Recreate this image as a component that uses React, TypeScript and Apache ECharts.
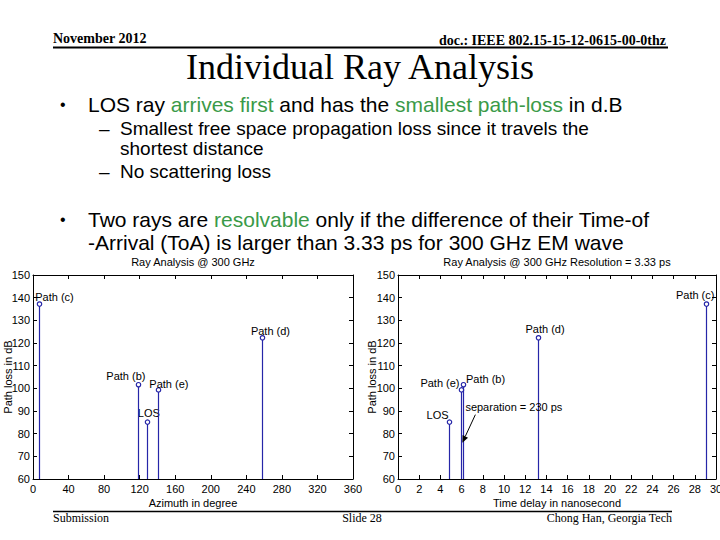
import React, { useEffect, useRef } from "react";
import * as echarts from "echarts";

// ---------- data ----------
const rayNames = ["LOS", "Path (b)", "Path (c)", "Path (d)", "Path (e)"];
const pathLossDb = [85.1, 101.6, 137.2, 122.3, 99.3];
const azimuthDeg = [128, 118.5, 7, 257.5, 141];
const delayNs = [4.77, 6.13, 29.05, 13.25, 5.9];

const azimuthAxis = { min: 0, max: 360, interval: 40 };
const delayAxis = { min: 0, max: 30, interval: 2 };
const lossAxis = { min: 60, max: 150, interval: 10 };

const lossAxisName = "Path loss in dB";
const separationNote = "separation = 230 ps";
// [fromX, fromY, toX, toY] in the right chart's data space
const separationArrow = [[7.3, 88.4, 6.07, 76]];

// ---------- styles ----------
const STEM = "#2626a8";
const GREEN = "#3a9a48";
const SANS = "'Liberation Sans', Arial, sans-serif";
const SERIF = "'Liberation Serif', 'Times New Roman', serif";

const leftLabelLayout: Record<string, [number, number, string]> = {
  "LOS": [-9, -9, "left"],
  "Path (b)": [-32, -9, "left"],
  "Path (c)": [-4, -7, "left"],
  "Path (d)": [-11, -7, "left"],
  "Path (e)": [-9, -6, "left"],
};
const rightLabelLayout: Record<string, [number, number, string]> = {
  "LOS": [0, -7, "right"],
  "Path (e)": [-1, -7, "right"],
  "Path (b)": [3, -6, "left"],
  "Path (d)": [-13, -9, "left"],
  "Path (c)": [-30, -9, "left"],
};

function stemRenderer(layout: Record<string, [number, number, string]>) {
  return (params: any, api: any) => {
    const x = api.value(0);
    const y = api.value(1);
    const top = api.coord([x, y]);
    const base = api.coord([x, lossAxis.min]);
    const name = rayNames[params.dataIndex];
    const [dx, dy, align] = layout[name];
    const px = Math.round(top[0]) + 0.5;
    return {
      type: "group",
      children: [
        {
          type: "line",
          shape: { x1: px, y1: base[1], x2: px, y2: top[1] + 2 },
          style: { stroke: STEM, lineWidth: 1.2 },
        },
        {
          type: "circle",
          shape: { cx: px, cy: top[1], r: 2.2 },
          style: { fill: "none", stroke: STEM, lineWidth: 1.2 },
        },
        {
          type: "text",
          x: top[0] + dx,
          y: top[1] + dy,
          style: {
            text: name,
            fill: "#000",
            fontSize: 11,
            fontFamily: SANS,
            align,
            verticalAlign: "middle",
          },
        },
      ],
    };
  };
}

function arrowRenderer(params: any, api: any) {
  const from = api.coord([api.value(0), api.value(1)]);
  const to = api.coord([api.value(2), api.value(3)]);
  const ang = Math.atan2(to[1] - from[1], to[0] - from[0]);
  const L = 7;
  const W = 3;
  const bx = to[0] - L * Math.cos(ang);
  const by = to[1] - L * Math.sin(ang);
  const nx = -Math.sin(ang) * W;
  const ny = Math.cos(ang) * W;
  return {
    type: "group",
    children: [
      {
        type: "line",
        shape: { x1: from[0], y1: from[1], x2: bx, y2: by },
        style: { stroke: "#000", lineWidth: 1 },
      },
      {
        type: "polygon",
        shape: { points: [[to[0], to[1]], [bx + nx, by + ny], [bx - nx, by - ny]] },
        style: { fill: "#000" },
      },
      {
        type: "text",
        x: from[0] - 10,
        y: from[1] - 8,
        style: {
          text: separationNote,
          fill: "#000",
          fontSize: 11,
          fontFamily: SANS,
          align: "left",
          verticalAlign: "middle",
        },
      },
    ],
  };
}

function axisPair(gridIndex: number, range: any, name: string, isX: boolean) {
  const common = {
    gridIndex,
    type: "value",
    min: range.min,
    max: range.max,
    interval: range.interval,
    splitLine: { show: false },
    axisLine: { show: true, onZero: false, lineStyle: { color: "#000", width: 1 } },
    axisTick: { show: true, inside: true, length: 4, lineStyle: { color: "#000" } },
  };
  return [
    {
      ...common,
      position: isX ? "bottom" : "left",
      axisLabel: {
        show: true,
        color: "#000",
        fontSize: 11,
        fontFamily: SANS,
        margin: isX ? 4 : 3,
      },
      name: isX ? name : "",
      nameLocation: "middle",
      nameGap: 18,
      nameTextStyle: { color: "#000", fontSize: 11, fontFamily: SANS },
    },
    {
      ...common,
      position: isX ? "top" : "right",
      axisLabel: { show: false },
    },
  ];
}

function txt(x: number, y: number, text: string, font: string, align = "left", extra: any = {}) {
  return {
    type: "text",
    x,
    y,
    silent: true,
    style: { text, font, fill: "#000", align, verticalAlign: "middle", ...extra },
  };
}

function vtxt(x: number, y: number, text: string) {
  return {
    type: "text",
    x,
    y,
    rotation: Math.PI / 2,
    silent: true,
    style: { text, fontSize: 11, fontFamily: SANS, fill: "#000", align: "center", verticalAlign: "middle" },
  };
}

function richLine(x: number, y: number, parts: [string, boolean][], size: number) {
  const rich: any = {
    k: { fill: "#000", fontSize: size, fontFamily: SANS },
    g: { fill: GREEN, fontSize: size, fontFamily: SANS },
  };
  const text = parts.map(([s, g]) => `{${g ? "g" : "k"}|${s}}`).join("");
  return {
    type: "text",
    x,
    y,
    silent: true,
    style: { text, rich, fontSize: size, fontFamily: SANS, fill: "#000", align: "left", verticalAlign: "middle" },
  };
}

export default function App() {
  const ref = useRef<HTMLDivElement>(null);
  useEffect(() => {
    if (!ref.current) return;
    const chart = echarts.init(ref.current, undefined, { renderer: "svg" });
    const leftX = axisPair(0, azimuthAxis, "Azimuth in degree", true);
    const rightX = axisPair(1, delayAxis, "Time delay in nanosecond", true);
    const leftY = axisPair(0, lossAxis, lossAxisName, false);
    const rightY = axisPair(1, lossAxis, lossAxisName, false);
    const b = 21;
    const s = 19;
    chart.setOption({
      animation: false,
      backgroundColor: "#fff",
      grid: [
        { left: 33, top: 275, width: 320, height: 204, containLabel: false, outerBoundsMode: "none" },
        { left: 398, top: 275, width: 318, height: 204, containLabel: false, outerBoundsMode: "none" },
      ],
      xAxis: [...leftX, ...rightX],
      yAxis: [...leftY, ...rightY],
      series: [
        {
          type: "custom",
          xAxisIndex: 0,
          yAxisIndex: 0,
          renderItem: stemRenderer(leftLabelLayout),
          data: azimuthDeg.map((a, i) => [a, pathLossDb[i]]),
          encode: { x: 0, y: 1 },
          clip: false,
        },
        {
          type: "custom",
          xAxisIndex: 2,
          yAxisIndex: 2,
          renderItem: stemRenderer(rightLabelLayout),
          data: delayNs.map((d, i) => [d, pathLossDb[i]]),
          encode: { x: 0, y: 1 },
          clip: false,
        },
        {
          type: "custom",
          xAxisIndex: 2,
          yAxisIndex: 2,
          renderItem: arrowRenderer,
          data: separationArrow,
          encode: { x: [0, 2], y: [1, 3] },
          clip: false,
        },
      ],
      graphic: [
        txt(53, 38, "November 2012", `bold 14px ${SERIF}`),
        txt(666, 40, "doc.: IEEE 802.15-15-12-0615-00-0thz", `bold 14px ${SERIF}`, "right"),
        {
          type: "line",
          silent: true,
          shape: { x1: 53, y1: 47.5, x2: 668, y2: 47.5 },
          style: { stroke: "#000", lineWidth: 2 },
        },
        txt(360, 67, "Individual Ray Analysis", `36px ${SERIF}`, "center"),
        txt(60, 104, "•", `16px ${SANS}`),
        richLine(88, 104, [["LOS ray ", false], ["arrives first", true], [" and has the ", false], ["smallest path-loss", true], [" in d.B", false]], b),
        txt(99, 128, "–", `${s}px ${SANS}`),
        txt(120, 128, "Smallest free space propagation loss since it travels the", `${s}px ${SANS}`),
        txt(120, 148, "shortest distance", `${s}px ${SANS}`),
        txt(99, 171, "–", `${s}px ${SANS}`),
        txt(120, 171, "No scattering loss", `${s}px ${SANS}`),
        txt(60, 219, "•", `16px ${SANS}`),
        richLine(88, 219, [["Two rays are ", false], ["resolvable", true], [" only if the difference of their Time-of", false]], b),
        txt(88, 242, "-Arrival (ToA) is larger than 3.33 ps for 300 GHz EM wave", `${b}px ${SANS}`),
        txt(193, 262, "Ray Analysis @ 300 GHz", `11px ${SANS}`, "center"),
        txt(557, 262, "Ray Analysis @ 300 GHz Resolution = 3.33 ps", `11px ${SANS}`, "center"),
        vtxt(8, 377, lossAxisName),
        vtxt(372, 377, lossAxisName),
        {
          type: "line",
          silent: true,
          shape: { x1: 53, y1: 511.5, x2: 672, y2: 511.5 },
          style: { stroke: "#000", lineWidth: 1.5 },
        },
        txt(53, 518, "Submission", `12px ${SERIF}`),
        txt(362, 518, "Slide 28", `12px ${SERIF}`, "center"),
        txt(672, 518, "Chong Han, Georgia Tech", `12px ${SERIF}`, "right"),
      ],
    });
    return () => chart.dispose();
  }, []);
  return (
    <div
      ref={ref}
      style={{ position: "fixed", left: 0, top: 0, width: 720, height: 540, background: "#fff" }}
    />
  );
}
